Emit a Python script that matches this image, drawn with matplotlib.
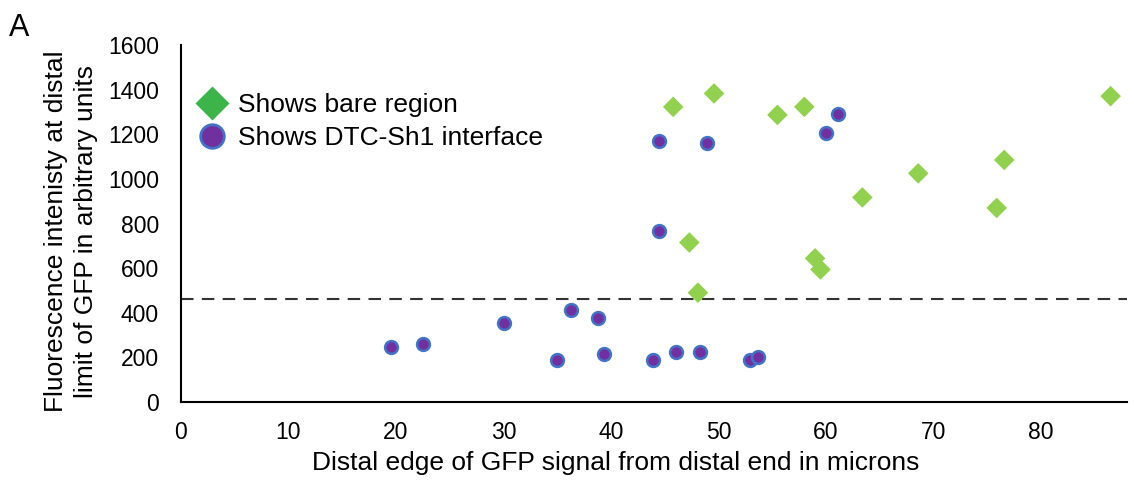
import matplotlib.pyplot as plt
from matplotlib.lines import Line2D

plt.rcParams['font.family'] = ['Liberation Sans', 'DejaVu Sans']

# green diamonds: shows bare region
bare_x = [45.8, 49.6, 55.5, 58.0, 86.5, 76.6, 68.6, 63.4, 75.9, 59.0, 59.5, 47.3, 48.1]
bare_y = [1323, 1383, 1287, 1323, 1371, 1085, 1025, 917, 870, 644, 594, 715, 490]

# purple circles: shows DTC-Sh1 interface
dtc_x = [61.1, 60.0, 44.5, 48.9, 44.5, 19.5, 22.5, 30.1, 35.0, 36.3, 38.8, 39.4,
         43.9, 46.1, 48.3, 52.9, 53.7]
dtc_y = [1290, 1207, 1171, 1159, 767, 247, 259, 353, 188, 413, 377, 213,
         187, 223, 223, 187, 201]

threshold = 460

fig = plt.figure(figsize=(11.34, 4.83), dpi=100)
ax = fig.add_axes([0.1596, 0.1677, 0.834, 0.739])

ax.scatter(bare_x, bare_y, marker='D', s=110, color='#92D050', edgecolors='none', zorder=3)
ax.scatter(dtc_x, dtc_y, marker='o', s=85, color='#7030A0', edgecolors='#4472C4',
           linewidths=1.8, zorder=3)
ax.axhline(threshold, color='#333333', linestyle=(0, (6, 4)), linewidth=1.5, zorder=2)

ax.set_xlim(0, 88)
ax.set_ylim(0, 1600)
ax.set_xticks(range(0, 90, 10))
ax.set_yticks(range(0, 1700, 200))
ax.tick_params(axis='y', length=0, labelsize=16.5, pad=16)
ax.tick_params(axis='x', length=0, labelsize=16.5, pad=14)
for s in ['top', 'right']:
    ax.spines[s].set_visible(False)
for s in ['left', 'bottom']:
    ax.spines[s].set_linewidth(1.5)

ax.set_xlabel('Distal edge of GFP signal from distal end in microns', fontsize=19)
ax.xaxis.set_label_coords(0.46, -0.137)
ax.set_ylabel('Fluorescence intenisty at distal\nlimit of GFP in arbitrary units',
              fontsize=19, linespacing=1.3)
ax.yaxis.set_label_coords(-0.088, 0.478)

handles = [
    Line2D([], [], marker='D', linestyle='none', markersize=17, color='#3CB44A',
           markeredgecolor='none'),
    Line2D([], [], marker='o', linestyle='none', markersize=17, color='#7030A0',
           markeredgecolor='#4472C4', markeredgewidth=2),
]
ax.legend(handles, ['Shows bare region', 'Shows DTC-Sh1 interface'],
          loc='upper left', bbox_to_anchor=(-0.012, 0.91), frameon=False,
          fontsize=19, handletextpad=0.0, labelspacing=0.35, borderaxespad=0.2)

fig.text(0.008, 0.925, 'A', fontsize=22)

fig.savefig('out.png', dpi=100)
